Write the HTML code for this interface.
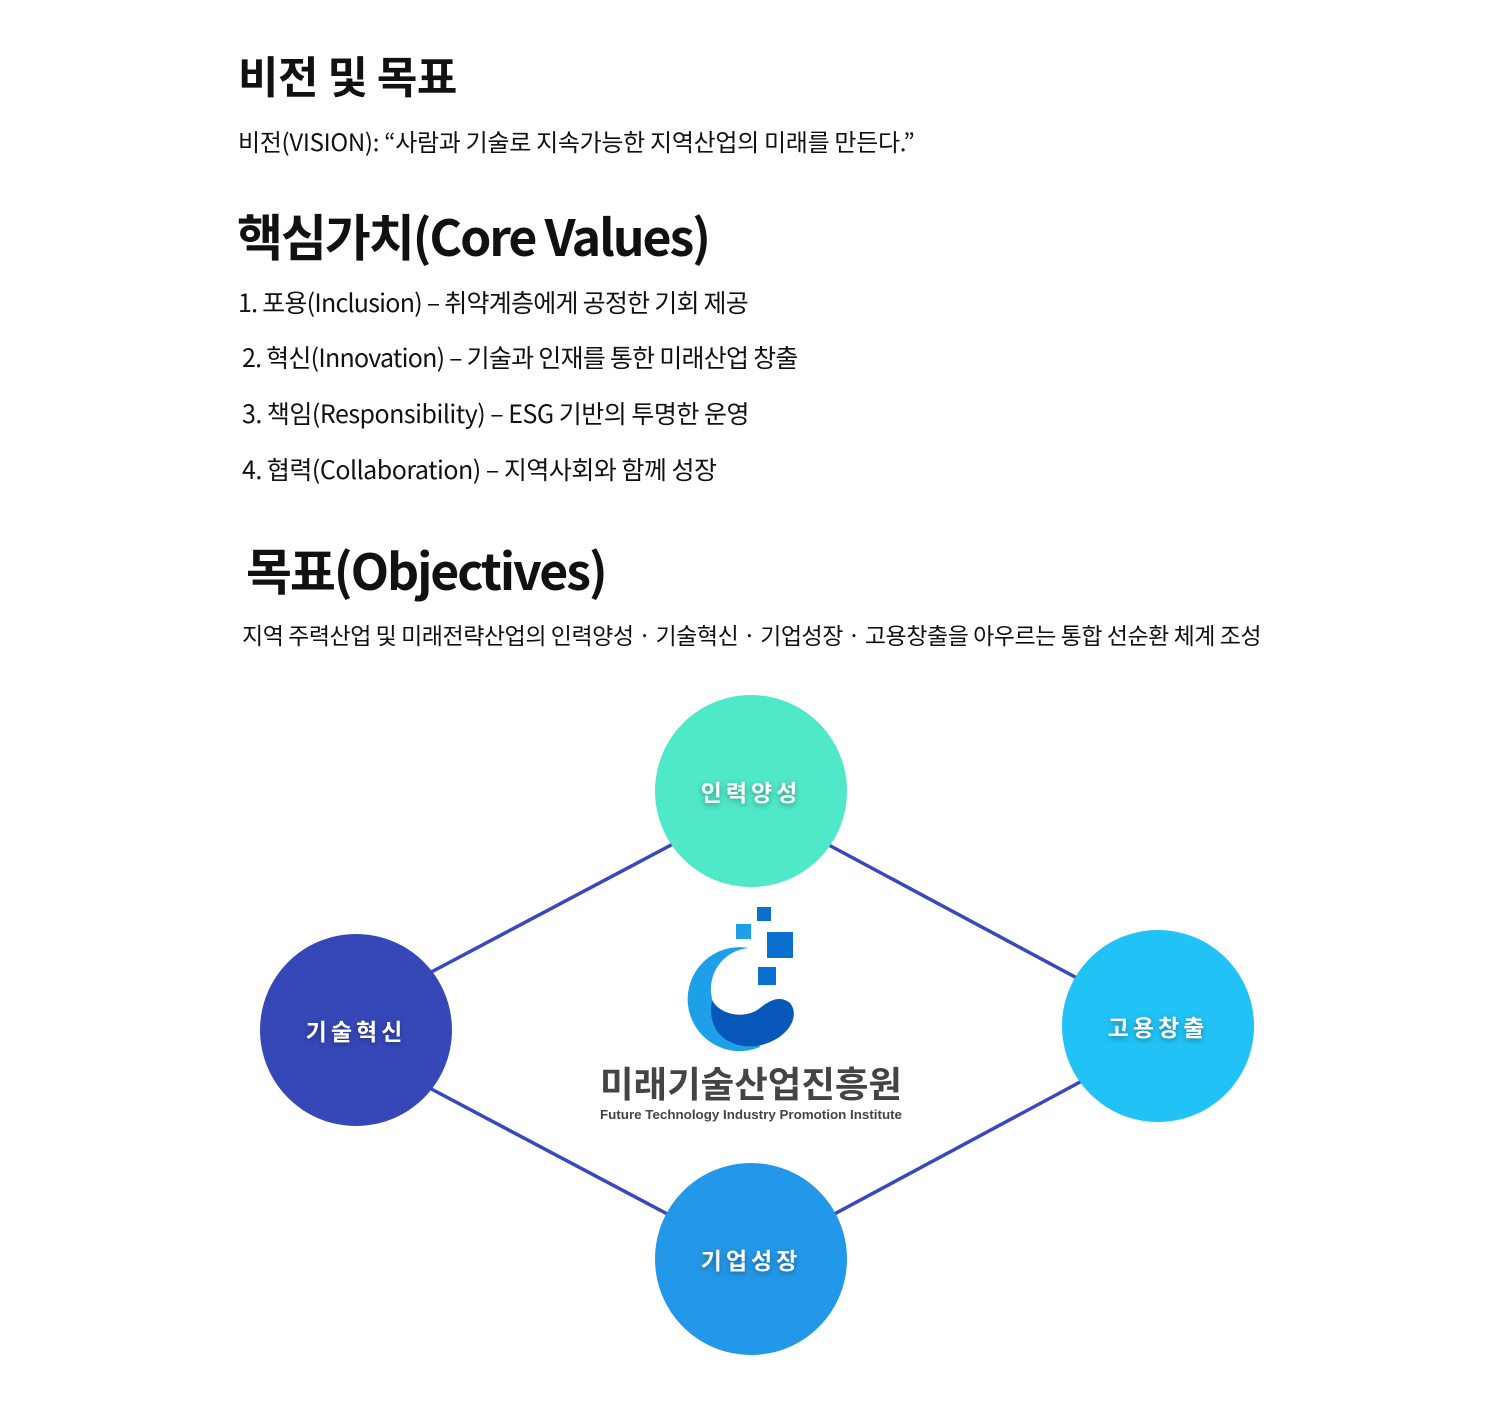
<!DOCTYPE html>
<html><head><meta charset="utf-8"><style>
body{margin:0;width:1500px;height:1401px;background:#fff;position:relative;font-family:"Noto Sans CJK KR","Liberation Sans",sans-serif;color:#111;overflow:hidden}
.t{position:absolute;white-space:nowrap;line-height:1}
.c{position:absolute;width:192px;height:192px;border-radius:50%;color:#fff;font-weight:bold;font-size:23px;letter-spacing:4px;display:flex;align-items:center;justify-content:center;text-shadow:0 2px 6px rgba(0,0,0,.35)}
</style></head><body>
<div class="t" style="left:238px;top:52px;font-size:44px;font-weight:bold;letter-spacing:-0.5px">비전 및 목표</div>
<div class="t" style="left:238px;top:129px;font-size:24px;letter-spacing:-0.3px">비전(VISION): “사람과 기술로 지속가능한 지역산업의 미래를 만든다.”</div>
<div class="t" style="left:237px;top:210px;font-size:50px;font-weight:bold;letter-spacing:-2.1px">핵심가치(Core Values)</div>
<div class="t" style="left:238px;top:290px;font-size:25px;letter-spacing:-0.75px">1. 포용(Inclusion) – 취약계층에게 공정한 기회 제공</div>
<div class="t" style="left:242px;top:345px;font-size:25px;letter-spacing:-0.75px">2. 혁신(Innovation) – 기술과 인재를 통한 미래산업 창출</div>
<div class="t" style="left:242px;top:401px;font-size:25px;letter-spacing:-0.5px">3. 책임(Responsibility) – ESG 기반의 투명한 운영</div>
<div class="t" style="left:242px;top:457px;font-size:25px;letter-spacing:-0.5px">4. 협력(Collaboration) – 지역사회와 함께 성장</div>
<div class="t" style="left:246px;top:544px;font-size:50px;font-weight:bold;letter-spacing:-2.1px">목표(Objectives)</div>
<div class="t" style="left:242px;top:623px;font-size:23px;letter-spacing:-0.45px">지역 주력산업 및 미래전략산업의 인력양성 · 기술혁신 · 기업성장 · 고용창출을 아우르는 통합 선순환 체계 조성</div>
<svg style="position:absolute;left:0;top:0" width="1500" height="1401">
<g stroke="#3a48c0" stroke-width="3.5">
<line x1="420" y1="978" x2="690" y2="835"/><line x1="812" y1="836" x2="1090" y2="985"/>
<line x1="420" y1="1083" x2="690" y2="1226"/><line x1="812" y1="1226" x2="1095" y2="1074"/>
</g>
<rect x="757" y="907" width="14" height="14" fill="#0b6fd0"/>
<rect x="736" y="924" width="15" height="15" fill="#1da0e8"/>
<rect x="767" y="932" width="26" height="26" fill="#0b6fd0"/>
<rect x="758" y="967" width="18" height="18" fill="#0b6fd0"/>
<path d="M749 948 A52 52 0 1 0 760 1047 L755 1030 A34 34 0 0 1 749 948 Z" fill="#1da0e8"/>
<path d="M712 1000 C705 1040 740 1052 765 1044 C790 1036 800 1015 790 1003 C780 995 770 1000 760 1008 C745 1020 720 1015 712 1000 Z" fill="#0757b8"/>
<text x="751" y="1097" text-anchor="middle" font-size="36" font-weight="bold" fill="#444" textLength="302" lengthAdjust="spacingAndGlyphs" font-family="Noto Sans CJK KR,sans-serif">미래기술산업진흥원</text>
<text x="751" y="1119" text-anchor="middle" font-size="13" font-weight="bold" fill="#444" textLength="302" lengthAdjust="spacingAndGlyphs" font-family="Liberation Sans,sans-serif">Future Technology Industry Promotion Institute</text>
</svg>
<div class="c" style="left:655px;top:695px;background:#4fe8c8">인력양성</div>
<div class="c" style="left:260px;top:934px;background:#3647b8">기술혁신</div>
<div class="c" style="left:1062px;top:930px;background:#21c2f6">고용창출</div>
<div class="c" style="left:655px;top:1163px;background:#2398e8">기업성장</div>
</body></html>
